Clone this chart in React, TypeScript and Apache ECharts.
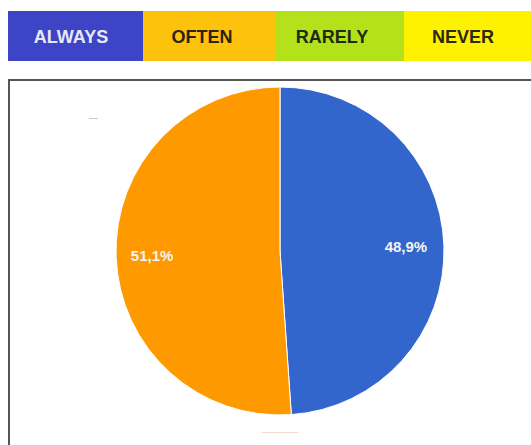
import React, { useEffect, useRef } from "react";
import * as echarts from "echarts";

const categories = ["ALWAYS", "OFTEN"];
const values = [48.9, 51.1];
const labels = ["48,9%", "51,1%"];
const sliceColors = ["#3366cc", "#ff9900"];

const legendNames = ["ALWAYS", "OFTEN", "RARELY", "NEVER"];
const legendColors = ["#3d45c6", "#fdc30c", "#b3e21a", "#fff200"];
const legendTextColors = ["#e6e9f7", "#2b2410", "#1f2a10", "#2b2a10"];
const legendEdges = [8, 143, 275, 404, 531];
const legendTextX = [71, 202, 332, 463];

export default function App() {
  const ref = useRef<HTMLDivElement>(null);
  useEffect(() => {
    const chart = echarts.init(ref.current!, null, { renderer: "svg" });
    const graphics: any[] = [];
    legendNames.forEach((n, i) => {
      const x0 = legendEdges[i];
      const x1 = legendEdges[i + 1];
      graphics.push({
        type: "rect",
        shape: { x: x0, y: 11, width: x1 - x0, height: 50 },
        style: { fill: legendColors[i] },
      });
      graphics.push({
        type: "text",
        x: legendTextX[i],
        y: 37,
        style: {
          text: n,
          fill: legendTextColors[i],
          font: "bold 18px 'Liberation Sans', Arial, sans-serif",
          align: "center",
          verticalAlign: "middle",
        },
      });
    });
    graphics.push({
      type: "rect",
      shape: { x: 9, y: 80, width: 540, height: 400 },
      style: { fill: "none", stroke: "#555555", lineWidth: 2 },
    });
    graphics.push({
      type: "rect",
      shape: { x: 89, y: 118, width: 9, height: 1 },
      style: { fill: "#c8c8c8" },
    });
    graphics.push({
      type: "rect",
      shape: { x: 262, y: 432, width: 36, height: 1 },
      style: { fill: "#eedccc" },
    });
    const data = categories.map((c, i) => ({
      name: c,
      value: values[i],
      itemStyle: { color: sliceColors[i] },
    }));
    chart.setOption({
      animation: false,
      graphic: graphics,
      series: [
        {
          type: "pie",
          center: [280, 251],
          radius: [0, 164],
          startAngle: 90,
          clockwise: true,
          silent: true,
          data,
          itemStyle: { borderColor: "#ffffff", borderWidth: 1 },
          label: { show: false },
          labelLine: { show: false },
        },
        {
          type: "pie",
          center: [279, 251],
          radius: [88, 160],
          startAngle: 90,
          clockwise: true,
          silent: true,
          data: categories.map((c, i) => ({
            name: c,
            value: values[i],
            itemStyle: { color: "rgba(0,0,0,0)" },
          })),
          label: {
            show: true,
            position: "inside",
            formatter: (p: any) => labels[p.dataIndex],
            color: "#f4f4f4",
            fontWeight: "bold",
            fontSize: 15,
            fontFamily: "'Liberation Sans', Arial, sans-serif",
          },
          labelLine: { show: false },
        },
      ],
    });
    return () => chart.dispose();
  }, []);
  return (
    <div
      ref={ref}
      style={{ position: "absolute", left: 0, top: 0, width: 531, height: 445, background: "#ffffff" }}
    />
  );
}
